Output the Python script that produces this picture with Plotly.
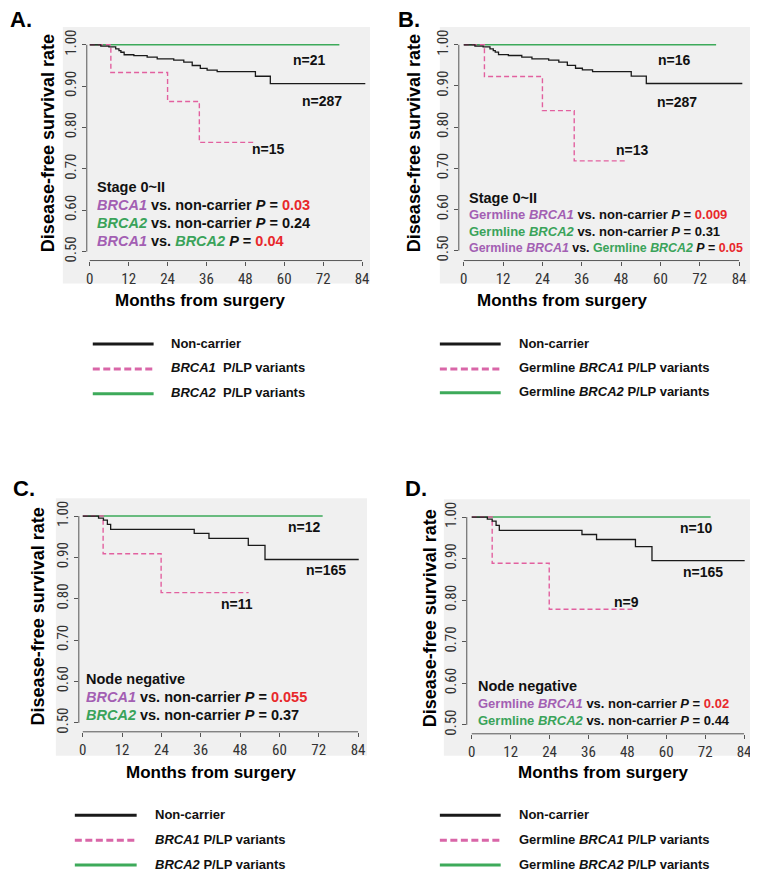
import plotly.graph_objects as go

# The page body has an 8px margin, so the figure is drawn 8px in from the
# top-left corner; all layout positions below are page pixels.
PAGE_W, PAGE_H = 758, 873
OFF = 8
W, H = PAGE_W - OFF, PAGE_H - OFF

# ---------------- data ----------------
x_ticks = [0, 12, 24, 36, 48, 60, 72, 84]
y_ticks = [0.5, 0.6, 0.7, 0.8, 0.9, 1.0]
y_tick_labels = ["0.50", "0.60", "0.70", "0.80", "0.90", "1.00"]

# Stage 0~II non-carrier (n=287), shared by panels A and B
stage_nc_months = [0, 3.4, 5.9, 8.0, 9.0, 9.6, 10.6, 13.6, 17.7, 20.8, 25.9, 29.0, 31.6, 34.1, 36.2, 39.3, 51.1, 55.7, 85]
stage_nc_surv = [1.0, 0.997, 0.995, 0.990, 0.986, 0.982, 0.976, 0.974, 0.970, 0.966, 0.963, 0.958, 0.950, 0.943, 0.939, 0.935, 0.924, 0.906, 0.906]

# Panel A
A_brca1_months = [0, 6.5, 24, 33.8, 51]
A_brca1_surv = [1.0, 0.933, 0.863, 0.764, 0.764]
A_brca2_months = [0, 77]
A_brca2_surv = [1.0, 1.0]

# Panel B
B_brca1_months = [0, 6.3, 24, 33.7, 50]
B_brca1_surv = [1.0, 0.923, 0.840, 0.718, 0.718]
B_brca2_months = [0, 77]
B_brca2_surv = [1.0, 1.0]

# Node negative non-carrier (n=165), shared by panels C and D
node_nc_months = [0, 4.8, 6.3, 7.5, 8.5, 34.0, 38.5, 50.5, 55.6, 84.2]
node_nc_surv = [1.0, 0.995, 0.990, 0.980, 0.968, 0.958, 0.946, 0.929, 0.895, 0.895]

# Panel C
C_brca1_months = [0, 6.2, 23.9, 50.6]
C_brca1_surv = [1.0, 0.909, 0.815, 0.815]
C_brca2_months = [0, 73.2]
C_brca2_surv = [1.0, 1.0]

# Panel D
D_brca1_months = [0, 6.3, 23.9, 49.8]
D_brca1_surv = [1.0, 0.889, 0.778, 0.778]
D_brca2_months = [0, 73.7]
D_brca2_surv = [1.0, 1.0]

n_labels_A = ["n=21", "n=287", "n=15"]
n_labels_B = ["n=16", "n=287", "n=13"]
n_labels_C = ["n=12", "n=165", "n=11"]
n_labels_D = ["n=10", "n=165", "n=9"]

# ---------------- styles ----------------
BLACK = "#1a1a1a"
PINK = "#E2609F"
GREEN = "#3DAA5A"
PURPLE = "#A35FB3"
TGREEN = "#3AA35A"
RED = "#E8282B"
BG = "#F0F0F0"
AXC = "#555555"
FONT = "Arial, Liberation Sans, sans-serif"
NARROW = "Liberation Sans Narrow, Arial Narrow, Roboto Condensed, sans-serif"


def fx(p):
    return (p - OFF) / W


def fy(p):
    return 1 - (p - OFF) / H


def pur(t):
    return f'<span style="color:{PURPLE}">{t}</span>'


def grn(t):
    return f'<span style="color:{TGREEN}">{t}</span>'


def red(t):
    return f'<span style="color:{RED}">{t}</span>'


panels = [
    dict(key="", letter="A.", letter_xy=(20, 16.5),
         bg=(62, 24, 370, 282), x0=89, x84=362, yline=86, right=368,
         y1=42, y05=250, xline=259, top=30,
         nc=(stage_nc_months, stage_nc_surv),
         b1=(A_brca1_months, A_brca1_surv), b2=(A_brca2_months, A_brca2_surv),
         nlab=n_labels_A, nlab_xy=[(309, 57), (322, 99), (268, 147)],
         ytitle=(47, 141), xtitle=(200, 299),
         txt_x=94, txt=[("Stage 0~II", 185, 14.5),
                        (f"<i>{pur('BRCA1')}</i> vs. non-carrier <i>P</i> = {red('0.03')}", 203, 14.5),
                        (f"<i>{grn('BRCA2')}</i> vs. non-carrier <i>P</i> = 0.24", 221, 14.5),
                        (f"<i>{pur('BRCA1')}</i> vs. <i>{grn('BRCA2')}</i> <i>P</i> = {red('0.04')}", 239, 14.5)],
         leg_x=(92, 153), leg_tx=168, leg_y=[343, 368, 393],
         leg_txt=["Non-carrier", "<i>BRCA1</i>  P/LP variants", "<i>BRCA2</i>  P/LP variants"]),
    dict(key="2", letter="B.", letter_xy=(409, 16.5),
         bg=(440, 24, 751, 282), x0=464, x84=740, yline=459, right=748,
         y1=42, y05=249, xline=259, top=30,
         nc=(stage_nc_months, stage_nc_surv),
         b1=(B_brca1_months, B_brca1_surv), b2=(B_brca2_months, B_brca2_surv),
         nlab=n_labels_B, nlab_xy=[(675, 57), (678, 100), (633, 148)],
         ytitle=(414, 141), xtitle=(563, 299),
         txt_x=467, txt=[("Stage 0~II", 196, 14.5),
                         (f"{pur('Germline <i>BRCA1</i>')} vs. non-carrier <i>P</i> = {red('0.009')}", 213, 13),
                         (f"{grn('Germline <i>BRCA2</i>')} vs. non-carrier <i>P</i> = 0.31", 229.5, 13),
                         (f"{pur('Germline <i>BRCA1</i>')} vs. {grn('Germline <i>BRCA2</i>')} <i>P</i> = {red('0.05')}", 246, 12.4)],
         leg_x=(440, 501), leg_tx=517, leg_y=[343, 368, 392],
         leg_txt=["Non-carrier", "Germline <i>BRCA1</i> P/LP variants", "Germline <i>BRCA2</i> P/LP variants"]),
    dict(key="3", letter="C.", letter_xy=(23, 488),
         bg=(55, 498, 367, 757), x0=82, x84=358, yline=78, right=365,
         y1=516, y05=724, xline=733, top=503,
         nc=(node_nc_months, node_nc_surv),
         b1=(C_brca1_months, C_brca1_surv), b2=(C_brca2_months, C_brca2_surv),
         nlab=n_labels_C, nlab_xy=[(304, 527), (326, 570), (237, 604)],
         ytitle=(38, 617), xtitle=(211, 774),
         txt_x=83, txt=[("Node negative", 680, 14.5),
                        (f"<i>{pur('BRCA1')}</i> vs. non-carrier <i>P</i> = {red('0.055')}", 698, 14.5),
                        (f"<i>{grn('BRCA2')}</i> vs. non-carrier <i>P</i> = 0.37", 716.5, 14.5)],
         leg_x=(74, 136), leg_tx=152, leg_y=[817, 842, 867],
         leg_txt=["Non-carrier", "<i>BRCA1</i> P/LP variants", "<i>BRCA2</i> P/LP variants"]),
    dict(key="4", letter="D.", letter_xy=(416, 488),
         bg=(444, 499, 754, 757), x0=472, x84=745, yline=467, right=752,
         y1=517, y05=726, xline=735, top=504,
         nc=(node_nc_months, node_nc_surv),
         b1=(D_brca1_months, D_brca1_surv), b2=(D_brca2_months, D_brca2_surv),
         nlab=n_labels_D, nlab_xy=[(697, 528), (704, 572), (627, 602)],
         ytitle=(431, 619), xtitle=(604, 774),
         txt_x=476, txt=[("Node negative", 687, 14.5),
                         (f"{pur('Germline <i>BRCA1</i>')} vs. non-carrier <i>P</i> = {red('0.02')}", 705, 13),
                         (f"{grn('Germline <i>BRCA2</i>')} vs. non-carrier <i>P</i> = 0.44", 721.5, 13)],
         leg_x=(440, 501), leg_tx=517, leg_y=[817, 842, 867],
         leg_txt=["Non-carrier", "Germline <i>BRCA1</i> P/LP variants", "Germline <i>BRCA2</i> P/LP variants"]),
]

fig = go.Figure()
shapes = []
annotations = []
layout_axes = {}

for p in panels:
    k = p["key"]
    xa = "x" + k
    ya = "y" + k
    # scales
    ppm = (p["x84"] - p["x0"]) / 84.0
    ppu = (p["y05"] - p["y1"]) / 0.5
    xr = [(p["yline"] - p["x0"]) / ppm, (p["right"] - p["x0"]) / ppm]
    yr = [1 - (p["xline"] - p["y1"]) / ppu, 1 + (p["y1"] - p["top"]) / ppu]

    layout_axes["xaxis" + k] = dict(
        domain=[fx(p["yline"]), fx(p["right"])], range=xr, anchor=ya,
        tickvals=x_ticks, ticktext=[str(v) for v in x_ticks],
        ticks="outside", ticklen=4, tickcolor=AXC, tickwidth=1,
        showline=False, showgrid=False, zeroline=False,
        tickfont=dict(family=NARROW, size=15, color="#333333"), fixedrange=True)
    layout_axes["yaxis" + k] = dict(
        domain=[fy(p["xline"]), fy(p["top"])], range=yr, anchor=xa,
        tickvals=y_ticks, ticktext=y_tick_labels, tickangle=-90,
        ticks="outside", ticklen=4, tickcolor=AXC, tickwidth=1,
        showline=False, showgrid=False, zeroline=False,
        tickfont=dict(family=NARROW, size=15, color="#333333"), fixedrange=True)

    # background
    bx0, by0, bx1, by1 = p["bg"]
    shapes.append(dict(type="rect", xref="paper", yref="paper", layer="below",
                       x0=fx(bx0), x1=fx(bx1), y0=fy(by1), y1=fy(by0),
                       fillcolor=BG, line=dict(width=0)))
    # axis lines (R style)
    shapes.append(dict(type="line", xref=xa, yref=ya + " domain", x0=0, x1=84, y0=0, y1=0,
                       line=dict(color=AXC, width=1)))
    shapes.append(dict(type="line", xref=xa + " domain", yref=ya, x0=0, x1=0, y0=0.5, y1=1.0,
                       line=dict(color=AXC, width=1)))

    # curves
    fig.add_trace(go.Scatter(x=p["b2"][0], y=p["b2"][1], mode="lines", line_shape="hv",
                             line=dict(color=GREEN, width=1.4), xaxis=xa, yaxis=ya,
                             showlegend=False, hoverinfo="skip"))
    fig.add_trace(go.Scatter(x=p["b1"][0], y=p["b1"][1], mode="lines", line_shape="hv",
                             line=dict(color=PINK, width=1.4, dash="5px,3px"), xaxis=xa, yaxis=ya,
                             showlegend=False, hoverinfo="skip"))
    fig.add_trace(go.Scatter(x=p["nc"][0], y=p["nc"][1], mode="lines", line_shape="hv",
                             line=dict(color=BLACK, width=1.3), xaxis=xa, yaxis=ya,
                             showlegend=False, hoverinfo="skip"))

    # n labels
    for lab, (lx, ly) in zip(p["nlab"], p["nlab_xy"]):
        annotations.append(dict(text=f"<b>{lab}</b>", x=fx(lx), y=fy(ly), xref="paper", yref="paper",
                                xanchor="center", yanchor="middle", showarrow=False,
                                font=dict(family=FONT, size=14, color="#111111")))
    # in-plot text
    for t, ty, sz in p["txt"]:
        annotations.append(dict(text=f"<b>{t}</b>", x=fx(p["txt_x"]), y=fy(ty), xref="paper", yref="paper",
                                xanchor="left", yanchor="middle", showarrow=False,
                                font=dict(family=FONT, size=sz, color="#111111")))
    # panel letter
    lx, ly = p["letter_xy"]
    annotations.append(dict(text=f"<b>{p['letter']}</b>", x=fx(lx), y=fy(ly), xref="paper", yref="paper",
                            xanchor="center", yanchor="middle", showarrow=False,
                            font=dict(family=FONT, size=22, color="#000000")))
    # axis titles
    tx, ty = p["ytitle"]
    annotations.append(dict(text="<b>Disease-free survival rate</b>", x=fx(tx), y=fy(ty),
                            xref="paper", yref="paper", textangle=-90,
                            xanchor="center", yanchor="middle", showarrow=False,
                            font=dict(family=FONT, size=18, color="#000000")))
    tx, ty = p["xtitle"]
    annotations.append(dict(text="<b>Months from surgery</b>", x=fx(tx), y=fy(ty),
                            xref="paper", yref="paper",
                            xanchor="center", yanchor="middle", showarrow=False,
                            font=dict(family=FONT, size=17, color="#000000")))
    # legend
    lcol = [BLACK, "#D966A8", GREEN]
    ldash = ["solid", "7px,3.5px", "solid"]
    for i in range(3):
        yy = p["leg_y"][i]
        shapes.append(dict(type="line", xref="paper", yref="paper",
                           x0=fx(p["leg_x"][0]), x1=fx(p["leg_x"][1]), y0=fy(yy), y1=fy(yy),
                           line=dict(color=lcol[i], width=3, dash=ldash[i])))
        annotations.append(dict(text=f"<b>{p['leg_txt'][i]}</b>", x=fx(p["leg_tx"]), y=fy(yy - 1),
                                xref="paper", yref="paper", xanchor="left", yanchor="middle",
                                showarrow=False, font=dict(family=FONT, size=13, color="#111111")))

fig.update_layout(
    width=W, height=H, margin=dict(l=0, r=0, t=0, b=0),
    paper_bgcolor="white", plot_bgcolor="rgba(0,0,0,0)",
    shapes=shapes, annotations=annotations, showlegend=False,
    **layout_axes)

fig.write_html("out.html")
